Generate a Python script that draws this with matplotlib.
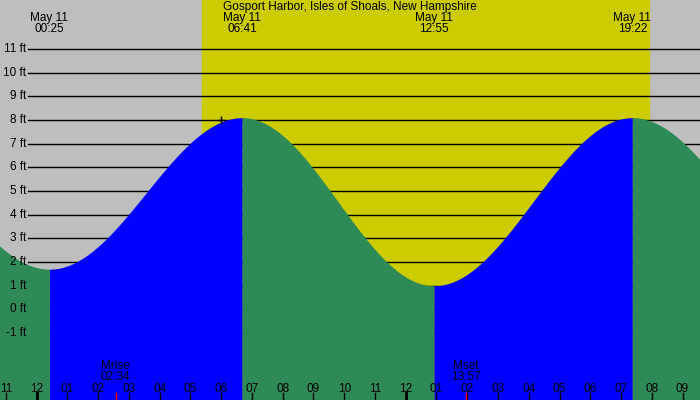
import numpy as np
import matplotlib
matplotlib.use("Agg")
import matplotlib.pyplot as plt

plt.rcParams['font.family'] = ['Liberation Sans', 'DejaVu Sans']

title = "Gosport Harbor, Isles of Shoals, New Hampshire"
# tide extremes (hours from midnight May 11, height ft)
ext_t = [-5.85, 0.417, 6.683, 12.917, 19.367, 25.65]
ext_h = [8.0, 1.7, 8.1, 1.0, 8.1, 1.6]
label_idx = [1, 2, 3, 4]
label_txt = ["May 11\n00:25", "May 11\n06:41", "May 11\n12:55", "May 11\n19:22"]
sunrise, sunset = 5.38, 19.9
moon_t = [2.567, 13.95]
moon_lbl = ["Mrise\n02:34", "Mset\n13:57"]
hour_labels = ["11", "12", "01", "02", "03", "04", "05", "06", "07", "08", "09", "10", "11", "12",
               "01", "02", "03", "04", "05", "06", "07", "08", "09"]
hour_pos = list(range(-1, 22))
ft_levels = list(range(-1, 12))

x0, x1 = -36.6 / 30.76, (700 - 36.6) / 30.76
y1 = 309.4 / 23.67
y0 = -(400 - 309.4) / 23.67

fig = plt.figure(figsize=(7, 4), dpi=100)
ax = fig.add_axes([0, 0, 1, 1])
ax.set_xlim(x0, x1); ax.set_ylim(y0, y1); ax.axis('off')
ax.add_patch(plt.Rectangle((x0, y0), x1 - x0, y1 - y0, color='#bebebe', zorder=0))
ax.axvspan(sunrise, sunset, color='#cccc00', zorder=0.5)

lx = x0 + 28 / 30.76
for f in ft_levels:
    ax.plot([lx, x1], [f, f], color='black', lw=1, zorder=1)
    ax.text(lx - 0.05, f, f"{f} ft", ha='right', va='center', fontsize=8.5)

# cosine interpolation between extremes
for i in range(len(ext_t) - 1):
    ta, tb, ha, hb = ext_t[i], ext_t[i + 1], ext_h[i], ext_h[i + 1]
    t = np.linspace(ta, tb, 200)
    h = (ha + hb) / 2 + (ha - hb) / 2 * np.cos(np.pi * (t - ta) / (tb - ta))
    col = '#0000ff' if hb > ha else '#2e8b57'
    ax.fill_between(t, y0, h, color=col, lw=0, zorder=2)

ax.text((x0 + x1) / 2, y1 - 0.05, title, ha='center', va='top', fontsize=8.5)
for i, s in zip(label_idx, label_txt):
    ax.text(ext_t[i], y1 - 0.5, s, ha='center', va='top', fontsize=8.5, linespacing=0.95)

tl = 7 / 23.67
for p, s in zip(hour_pos, hour_labels):
    ax.plot([p, p], [y0, y0 + tl], color='black', lw=2 if s == "12" else 1, zorder=3)
    ax.text(p, y0 + 0.45, s, ha='center', va='center', fontsize=8.5, zorder=4)
for p, s in zip(moon_t, moon_lbl):
    ax.plot([p, p], [y0, y0 + tl], color='red', lw=1, zorder=3)
    ax.text(p, y0 + 1.2, s, ha='center', va='center', fontsize=8.5, linespacing=0.95, zorder=4)
ax.plot([ext_t[2] - 0.7], [8.0], marker='+', color='black', ms=6, zorder=4)

fig.savefig("out.png", dpi=100)
